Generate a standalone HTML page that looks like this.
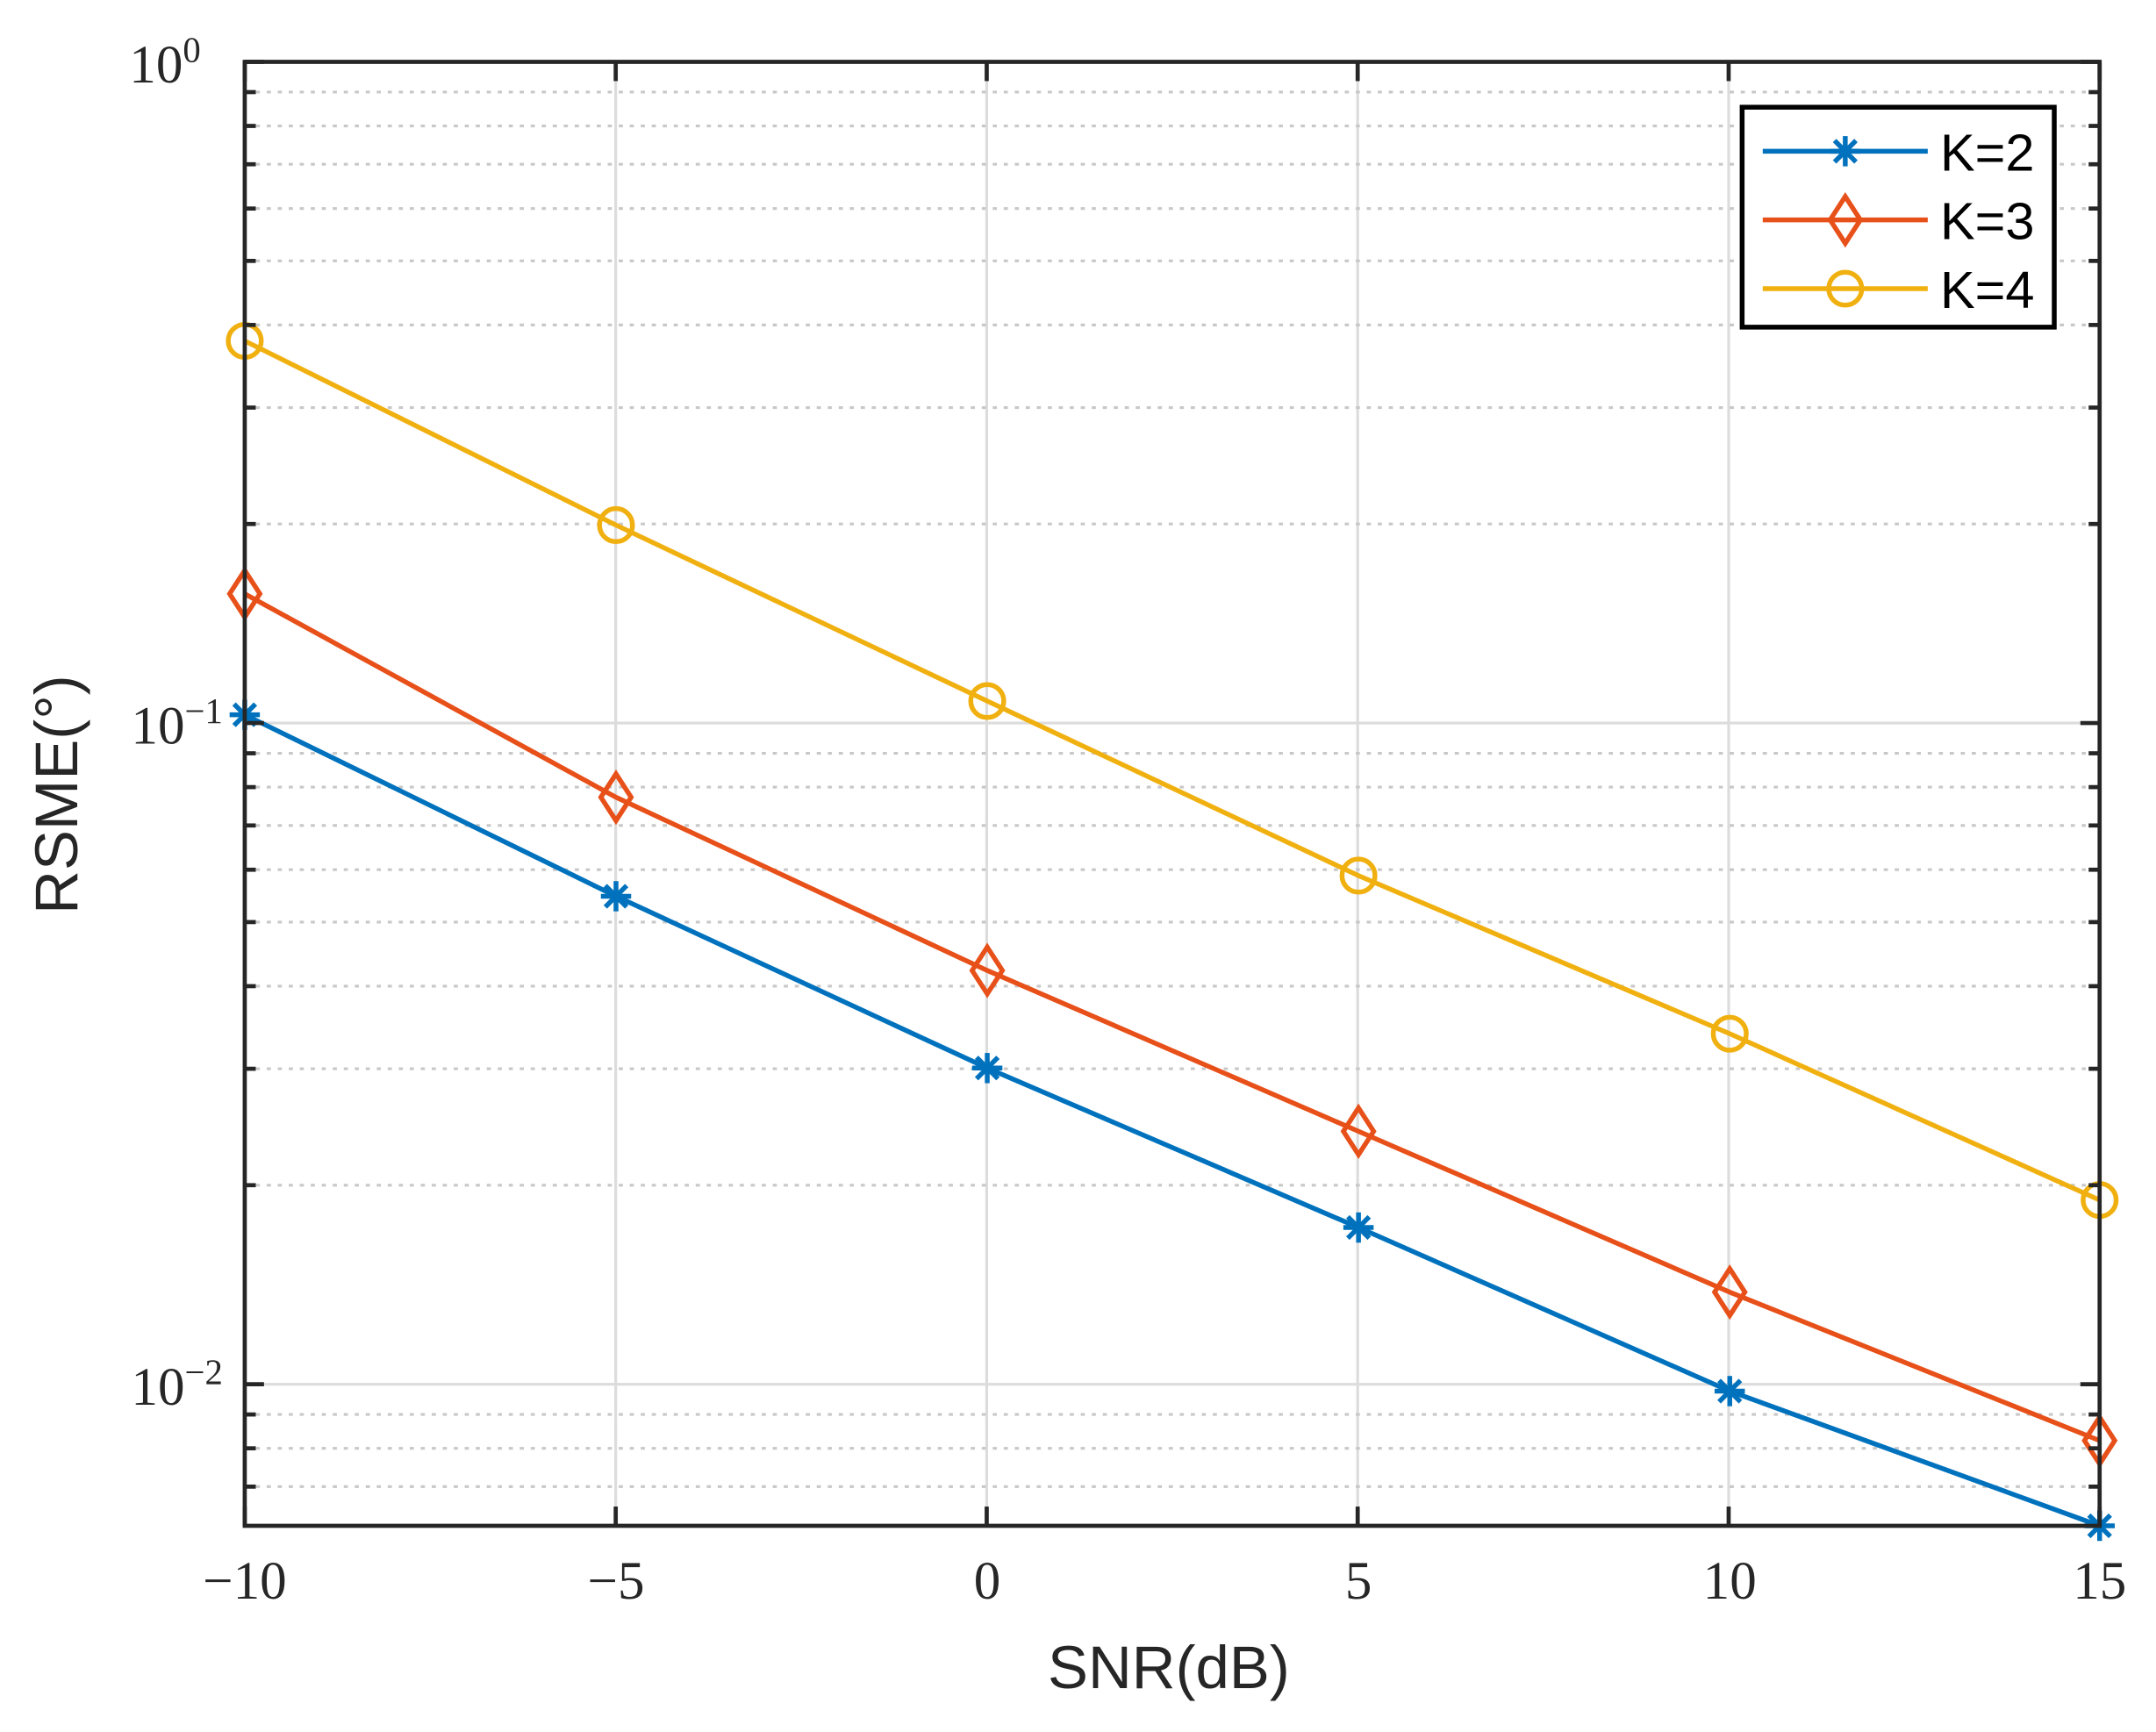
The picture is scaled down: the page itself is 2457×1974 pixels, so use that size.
<!DOCTYPE html>
<html><head><meta charset="utf-8"><style>html,body{margin:0;padding:0;background:#fff}svg{display:block}</style></head>
<body>
<svg id="s" width="2457" height="1974" viewBox="0 0 1568 1260" preserveAspectRatio="none" xmlns="http://www.w3.org/2000/svg">
<rect width="1568" height="1260" fill="#fff"/>
<g id="grid"></g>
<g id="series"></g>
<rect x="178" y="45" width="1349" height="1065" fill="none" stroke="#262626" stroke-width="3"/>
<g id="ticks"></g>
<g font-family="Liberation Serif, serif" font-size="39" fill="#262626" text-anchor="middle">
<text x="178" y="1163">−10</text><text x="448" y="1163">−5</text><text x="718" y="1163">0</text>
<text x="988" y="1163">5</text><text x="1258" y="1163">10</text><text x="1527" y="1163">15</text>
</g>
<g font-family="Liberation Serif, serif" font-size="39" fill="#262626" text-anchor="end">
<text x="146" y="60">10<tspan font-size="26" dy="-15">0</tspan></text>
<text x="162" y="541">10<tspan font-size="26" dy="-15">−1</tspan></text>
<text x="162" y="1022">10<tspan font-size="26" dy="-15">−2</tspan></text>
</g>
<text x="850" y="1228" font-family="Liberation Sans, sans-serif" font-size="44" fill="#262626" text-anchor="middle">SNR(dB)</text>
<text transform="translate(56,578) rotate(-90)" font-family="Liberation Sans, sans-serif" font-size="44" fill="#262626" text-anchor="middle">RSME(°)</text>
<g id="legend">
<rect x="1267" y="78" width="227" height="160" fill="#fff" stroke="#000" stroke-width="3.5"/>
<g font-family="Liberation Sans, sans-serif" font-size="38" fill="#000">
<text x="1411" y="124">K=2</text><text x="1411" y="174">K=3</text><text x="1411" y="224">K=4</text>
</g>
</g>
</svg>
<script>
const NS="http://www.w3.org/2000/svg";
function el(p,t,a){const e=document.createElementNS(NS,t);for(const k in a)e.setAttribute(k,a[k]);p.appendChild(e);return e;}
const L=178,R=1527,T=45,B=1110,D=481;
const g=document.getElementById('grid'),tk=document.getElementById('ticks');
function Y(v){return T+(-Math.log10(v))*D;}
for(let i=0;i<6;i++){const x=L+i*(R-L)/5;el(g,'line',{x1:x,x2:x,y1:T,y2:B,stroke:'#dcdcdc','stroke-width':2});
 el(tk,'line',{x1:x,x2:x,y1:B,y2:B-14,stroke:'#262626','stroke-width':3});el(tk,'line',{x1:x,x2:x,y1:T,y2:T+14,stroke:'#262626','stroke-width':3});}
[1,0.1,0.01].forEach(v=>{const y=Y(v);el(g,'line',{x1:L,x2:R,y1:y,y2:y,stroke:'#dcdcdc','stroke-width':2});
 el(tk,'line',{x1:L,x2:L+14,y1:y,y2:y,stroke:'#262626','stroke-width':3});el(tk,'line',{x1:R,x2:R-14,y1:y,y2:y,stroke:'#262626','stroke-width':3});});
[0.1,0.01,0.001].forEach(d=>{for(let m=2;m<=9;m++){const v=m*d;const y=Y(v);if(y>B-1)continue;
 el(g,'line',{x1:L,x2:R,y1:y,y2:y,stroke:'#c8c8c8','stroke-width':2,'stroke-dasharray':'3,5'});
 el(tk,'line',{x1:L,x2:L+8,y1:y,y2:y,stroke:'#262626','stroke-width':3});el(tk,'line',{x1:R,x2:R-8,y1:y,y2:y,stroke:'#262626','stroke-width':3});}});
const xs=[178,448,718,988,1258,1527];
const S=[{c:'#0072BD',m:'a',y:[520,652,777,893,1012,1110]},
{c:'#E8501A',m:'d',y:[432,580,706,823,940,1048]},
{c:'#F0B010',m:'o',y:[248,382,510,637,752,873]}];
const sg=document.getElementById('series');
function mk(p,m,x,y,c){
 if(m=='a'){for(let k=0;k<4;k++){const a=k*Math.PI/4;el(p,'line',{x1:x-11*Math.cos(a),y1:y-11*Math.sin(a),x2:x+11*Math.cos(a),y2:y+11*Math.sin(a),stroke:c,'stroke-width':3.5});}}
 else if(m=='d'){el(p,'polygon',{points:`${x},${y-17} ${x+11},${y} ${x},${y+17} ${x-11},${y}`,fill:'none',stroke:c,'stroke-width':3.5});}
 else el(p,'circle',{cx:x,cy:y,r:12,fill:'none',stroke:c,'stroke-width':3.5});}
S.forEach(s=>{el(sg,'polyline',{points:xs.map((x,i)=>x+','+s.y[i]).join(' '),fill:'none',stroke:s.c,'stroke-width':3.5});
 xs.forEach((x,i)=>mk(sg,s.m,x,s.y[i],s.c));});
const lg=document.getElementById('legend');
S.forEach((s,i)=>{const y=110+i*50;el(lg,'line',{x1:1282,x2:1402,y1:y,y2:y,stroke:s.c,'stroke-width':3.5});mk(lg,s.m,1342,y,s.c);});
</script>
</body></html>
